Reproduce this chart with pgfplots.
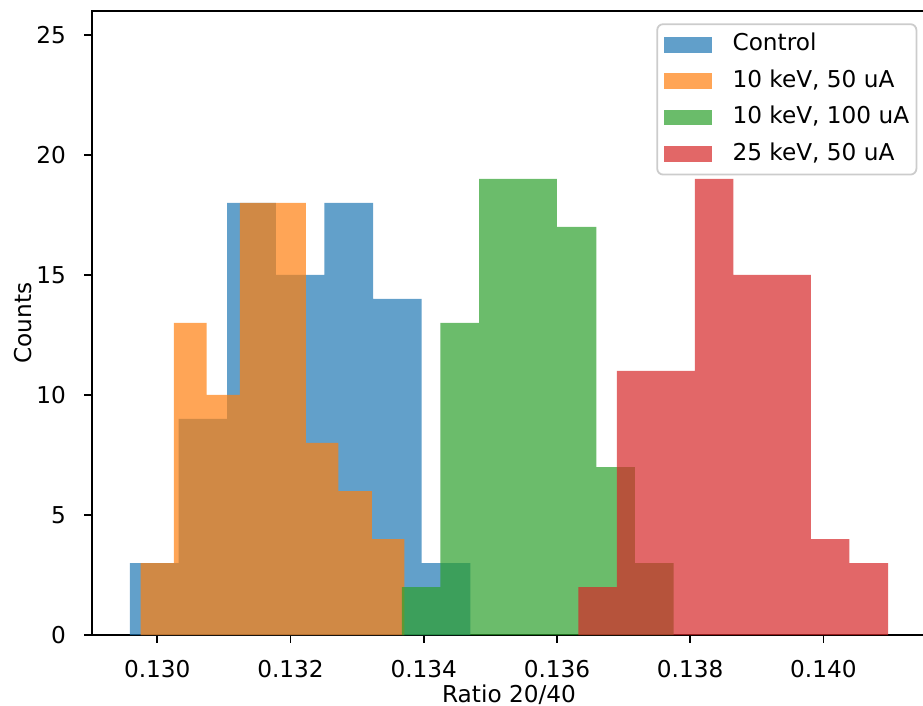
\documentclass[border=0pt]{standalone}
\usepackage{fontspec}
\setmainfont{DejaVu Sans}
\usepackage{pgfplots}
\pgfplotsset{compat=1.18}
\definecolor{tabblue}{RGB}{31,119,180}
\definecolor{taborange}{RGB}{255,127,14}
\definecolor{tabgreen}{RGB}{44,160,44}
\definecolor{tabred}{RGB}{214,39,40}
\begin{document}
\fontsize{11.6bp}{13.9bp}\selectfont
\begin{tikzpicture}
\begin{axis}[
  name=ax,
  scale only axis,
  width=417bp, height=312bp,
  xmin=0.12902, xmax=0.14154,
  ymin=0, ymax=26,
  axis line style={black, line width=0.9bp},
  tick style={black, line width=0.9bp},
  major tick length=3.9bp,
  tick align=outside,
  tick pos=left,
  xtick={0.130,0.132,0.134,0.136,0.138,0.140},
  xticklabels={0.130,0.132,0.134,0.136,0.138,0.140},
  ytick={0,5,10,15,20,25},
  yticklabels={0,5,10,15,20,25},
  xticklabel style={anchor=base, inner sep=0pt, yshift=-17.15bp},
  yticklabel style={anchor=east, inner sep=0pt, xshift=-9bp},
  xlabel={Ratio 20/40},
  ylabel={Counts},
  every axis x label/.style={at={(axis description cs:0.5,0)}, anchor=base, yshift=-33.9bp, inner sep=0pt},
  every axis y label/.style={at={(axis description cs:-0.0827,0.5)}, anchor=center, rotate=90, inner sep=0pt},
  legend cell align=left,
  legend style={at={(0.9896,0.9803)}, anchor=north east,
    draw=black!20, line width=0.9bp, rounded corners=3bp,
    fill=white, fill opacity=0.8, text opacity=1,
    inner xsep=3.6bp, inner ysep=5bp, row sep=7.6bp,
    nodes={inner sep=0pt, text height=8.4bp, text depth=2.2bp},
    /tikz/every odd column/.append style={column sep=10.3bp}},
  legend image code/.code={\fill[#1, sharp corners] (0bp,-3.9bp) rectangle (23.8bp,3.9bp);},
]
\addplot[ybar interval, fill=tabblue, fill opacity=0.7, draw=none] coordinates {
(0.12959,3) (0.13032,9) (0.13105,18) (0.13178,15) (0.13251,18) (0.13324,14) (0.13397,3) (0.13470,0)};
\addlegendentry{Control}
\addplot[ybar interval, fill=taborange, fill opacity=0.7, draw=none] coordinates {
(0.12975,3) (0.13025,13) (0.13074,10) (0.13124,18) (0.13173,18) (0.13223,8) (0.13272,6) (0.13322,4) (0.13371,0)};
\addlegendentry{10 keV, 50 uA}
\addplot[ybar interval, fill=tabgreen, fill opacity=0.7, draw=none] coordinates {
(0.13367,2) (0.13425,13) (0.13483,19) (0.13542,19) (0.13600,17) (0.13659,7) (0.13717,3) (0.13775,0)};
\addlegendentry{10 keV, 100 uA}
\addplot[ybar interval, fill=tabred, fill opacity=0.7, draw=none] coordinates {
(0.13632,2) (0.13690,11) (0.13749,11) (0.13807,19) (0.13865,15) (0.13923,15) (0.13981,4) (0.14039,3) (0.14097,0)};
\addlegendentry{25 keV, 50 uA}
\end{axis}
\pgfresetboundingbox
\useasboundingbox ([shift={(-46bp,-35.5bp)}]ax.south west) rectangle ([shift={(415.5bp,317.5bp)}]ax.south west);
\end{tikzpicture}
\end{document}
